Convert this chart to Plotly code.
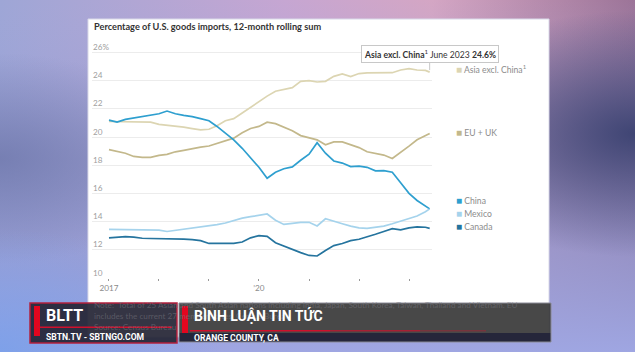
import base64
import plotly.graph_objects as go

# ---------------- data ----------------
dates = ["2017-01-01", "2017-03-01", "2017-05-01", "2017-07-01", "2017-09-01", "2017-11-01",
         "2018-01-01", "2018-03-01", "2018-05-01", "2018-07-01", "2018-09-01", "2018-11-01",
         "2019-01-01", "2019-03-01", "2019-05-01", "2019-07-01", "2019-09-01", "2019-11-01",
         "2020-01-01", "2020-03-01", "2020-05-01", "2020-07-01", "2020-09-01", "2020-11-01",
         "2021-01-01", "2021-03-01", "2021-05-01", "2021-07-01", "2021-09-01", "2021-11-01",
         "2022-01-01", "2022-03-01", "2022-05-01", "2022-07-01", "2022-09-01", "2022-11-01",
         "2023-01-01", "2023-03-01", "2023-05-01", "2023-06-01"]

asia_excl_china = [21.1, 21.08, 21.08, 21.06, 21.06, 21.05, 20.9, 20.85, 20.78, 20.7, 20.6, 20.5,
                   20.55, 20.8, 21.15, 21.3, 21.7, 22.1, 22.55, 22.9, 23.25, 23.4, 23.5, 23.95,
                   24.0, 23.9, 23.95, 24.3, 24.47, 24.28, 24.5, 24.55, 24.56, 24.56, 24.56, 24.75,
                   24.85, 24.75, 24.72, 24.6]
eu_uk = [19.1, 19.0, 18.85, 18.62, 18.56, 18.56, 18.7, 18.77, 18.95, 19.05, 19.18, 19.28,
         19.36, 19.55, 19.73, 19.92, 20.3, 20.6, 20.75, 21.05, 20.95, 20.7, 20.45, 20.1,
         19.95, 19.8, 19.45, 19.65, 19.65, 19.45, 19.25, 18.95, 18.82, 18.72, 18.48, 18.9,
         19.35, 19.8, 20.1, 20.25]
china = [21.2, 21.06, 21.25, 21.35, 21.45, 21.5, 21.65, 21.84, 21.65, 21.53, 21.45, 21.3,
         21.15, 20.75, 20.3, 19.8, 19.2, 18.5, 17.85, 17.07, 17.5, 17.75, 17.88, 18.35,
         18.78, 19.6, 18.85, 18.3, 18.15, 17.9, 17.94, 17.85, 17.6, 17.61, 17.5, 16.75,
         16.0, 15.5, 15.1, 14.9]
mexico = [13.45, 13.45, 13.45, 13.45, 13.45, 13.45, 13.4, 13.3, 13.38, 13.45, 13.5, 13.6,
          13.68, 13.78, 13.9, 14.08, 14.25, 14.35, 14.42, 14.54, 14.1, 13.8, 13.88, 13.95,
          13.95, 13.69, 14.2, 14.05, 13.85, 13.68, 13.55, 13.52, 13.6, 13.68, 13.85, 14.05,
          14.2, 14.4, 14.7, 14.9]
canada = [12.85, 12.88, 12.93, 12.9, 12.82, 12.8, 12.8, 12.78, 12.75, 12.75, 12.72, 12.65,
          12.45, 12.45, 12.45, 12.45, 12.55, 12.85, 13.0, 12.95, 12.5, 12.25, 12.05, 11.8,
          11.6, 11.56, 11.95, 12.3, 12.45, 12.65, 12.75, 12.9, 13.1, 13.3, 13.5, 13.42,
          13.55, 13.62, 13.6, 13.52]

series_names = ["Asia excl. China<sup>1</sup>", "EU + UK", "China", "Mexico", "Canada"]
series_values = [asia_excl_china, eu_uk, china, mexico, canada]
series_colors = ["#dcd5b2", "#c3b88b", "#2e9fcf", "#a5d3ec", "#25749e"]

y_tickvals = [10, 12, 14, 16, 18, 20, 22, 24, 26]
y_ticktext = ["10", "12", "14", "16", "18", "20", "22", "24", "26%"]
x_tickvals = ["2017-01-01", "2018-01-01", "2019-01-01", "2020-01-01", "2021-01-01",
              "2022-01-01", "2023-01-01"]
x_ticktext = ["2017", "", "", "\u201920", "", "", ""]

title_text = "Percentage of U.S. goods imports, 12-month rolling sum"
tooltip_text = "<b>Asia excl. China</b><sup>1</sup> June 2023 <b>24.6%</b>"
note_lines = ["Note:  Total of 25 Asian and South Asian nations including India, Japan, South Korea, Taiwan, Thailand and Vietnam. EU",
              "includes the current 27 member states. Census Bureau",
              "Source: Census Bureau"]

# ---------------- layout geometry ----------------
W, H = 635, 352
L, R, T, B = 92, 203, 40, 74
PW, PH = W - L - R, H - T - B


def px(x):
    return (x - L) / PW


def py(y):
    return (H - B - y) / PH


# ---------------- background gradient (decoration) ----------------
svg = f"""<svg xmlns='http://www.w3.org/2000/svg' width='{W}' height='{H}' viewBox='0 0 {W} {H}' preserveAspectRatio='none'>
<defs>
<linearGradient id='g' x1='0' y1='0' x2='1' y2='0'>
<stop offset='0' stop-color='#9ea6d6'/>
<stop offset='0.45' stop-color='#c6a6d2'/>
<stop offset='0.68' stop-color='#d4a6c4'/>
<stop offset='1' stop-color='#9c7498'/>
</linearGradient>
<linearGradient id='v' x1='0' y1='0' x2='0' y2='1'>
<stop offset='0' stop-color='#a0a8e2' stop-opacity='0'/>
<stop offset='0.45' stop-color='#8c92c8' stop-opacity='0.55'/>
<stop offset='1' stop-color='#9fa6e2' stop-opacity='1'/>
</linearGradient>
<radialGradient id='d' cx='1' cy='0.38' r='0.35'>
<stop offset='0' stop-color='#3f4574' stop-opacity='1'/>
<stop offset='1' stop-color='#3f4574' stop-opacity='0'/>
</radialGradient>
<radialGradient id='lft' cx='0' cy='0.45' r='0.3'>
<stop offset='0' stop-color='#6f78ac' stop-opacity='0.8'/>
<stop offset='1' stop-color='#6f78ac' stop-opacity='0'/>
</radialGradient>
<radialGradient id='bl' cx='0' cy='1' r='0.35'>
<stop offset='0' stop-color='#7aa0ea' stop-opacity='0.9'/>
<stop offset='1' stop-color='#7aa0ea' stop-opacity='0'/>
</radialGradient>
</defs>
<rect width='{W}' height='{H}' fill='url(#g)'/>
<rect width='{W}' height='{H}' fill='url(#v)'/>
<rect width='{W}' height='{H}' fill='url(#d)'/>
<rect width='{W}' height='{H}' fill='url(#lft)'/>
<rect width='{W}' height='{H}' fill='url(#bl)'/>
</svg>"""
bg_uri = "data:image/svg+xml;base64," + base64.b64encode(svg.encode()).decode()

fig = go.Figure()

for name, vals, col in zip(series_names, series_values, series_colors):
    fig.add_trace(go.Scatter(x=dates, y=vals, mode="lines", name=name,
                             line=dict(color=col, width=1.7), showlegend=False,
                             hoverinfo="skip"))

shapes = []
# white card
shapes.append(dict(type="rect", xref="paper", yref="paper", layer="below",
                   x0=px(88), x1=px(549), y0=py(337), y1=py(19),
                   fillcolor="white", line=dict(color="#d8d8e8", width=1)))

# banner - left box
shapes.append(dict(type="rect", xref="paper", yref="paper", layer="above",
                   x0=px(30), x1=px(177), y0=py(343), y1=py(303),
                   fillcolor="rgba(38,38,54,0.93)", line=dict(color="#b3203e", width=1.5)))
shapes.append(dict(type="rect", xref="paper", yref="paper", layer="above",
                   x0=px(34), x1=px(40), y0=py(336), y1=py(306),
                   fillcolor="#e3061f", line=dict(width=0)))
shapes.append(dict(type="rect", xref="paper", yref="paper", layer="above",
                   x0=px(37), x1=px(172), y0=py(328), y1=py(326.5),
                   fillcolor="#d0102c", line=dict(width=0)))
# banner - right box
shapes.append(dict(type="rect", xref="paper", yref="paper", layer="above",
                   x0=px(179), x1=px(551), y0=py(333), y1=py(303),
                   fillcolor="rgba(58,58,58,0.93)", line=dict(width=0)))
shapes.append(dict(type="rect", xref="paper", yref="paper", layer="above",
                   x0=px(179), x1=px(551), y0=py(342), y1=py(333),
                   fillcolor="#25263a", line=dict(width=0)))
shapes.append(dict(type="rect", xref="paper", yref="paper", layer="above",
                   x0=px(179), x1=px(551), y0=py(342), y1=py(303),
                   fillcolor="rgba(0,0,0,0)", line=dict(color="#8a8a96", width=1)))
shapes.append(dict(type="rect", xref="paper", yref="paper", layer="above",
                   x0=px(182), x1=px(188), y0=py(333), y1=py(306),
                   fillcolor="#e3061f", line=dict(width=0)))
for (a, b_, op) in [(190, 330, 1.0), (330, 420, 0.7), (420, 486, 0.35)]:
    shapes.append(dict(type="rect", xref="paper", yref="paper", layer="above",
                       x0=px(a), x1=px(b_), y0=py(331.5), y1=py(330),
                       fillcolor=f"rgba(208,16,44,{op})", line=dict(width=0)))

annotations = []
annotations.append(dict(text=title_text, xref="paper", yref="paper", x=px(92), y=py(27),
                        xanchor="left", yanchor="middle", showarrow=False,
                        font=dict(family="Lato", size=9.2, color="#333333", weight="bold")))

# y tick labels sitting above their gridlines (WSJ style)
for v, t in zip(y_tickvals, y_ticktext):
    annotations.append(dict(text=t, xref="paper", yref="y", x=px(91), y=v, yshift=5.5,
                            xanchor="left", yanchor="middle", showarrow=False,
                            font=dict(family="Lato", size=8.2, color="#a0a0a0")))

# legend labels at right
legend_y = [69, 132, 200, 213, 226]
for name, col, yy in zip(series_names, series_colors, legend_y):
    annotations.append(dict(
        text=f"<span style='color:{col};font-size:10px'>\u25A0</span> {name}",
        xref="paper", yref="paper", x=px(454), y=py(yy), xanchor="left", yanchor="middle",
        showarrow=False, font=dict(family="Lato", size=8.6, color="#8c8c8c")))

# tooltip
annotations.append(dict(text=tooltip_text, x=dates[-1], y=asia_excl_china[-1], xref="x", yref="y",
                        showarrow=True, arrowhead=0, arrowwidth=1, arrowcolor="#c8c8c8",
                        ax=0, ay=-18, standoff=2, bgcolor="white", bordercolor="#c8c8c8",
                        borderwidth=1, borderpad=2,
                        font=dict(family="Lato", size=8.6, color="#333333")))

# note text (behind banner - dimmed)
for i, line in enumerate(note_lines):
    annotations.append(dict(text=line, xref="paper", yref="paper", x=px(92), y=py(305 + 11 * i),
                            xanchor="left", yanchor="middle", showarrow=False,
                            font=dict(family="Lato", size=8.2, color="rgba(120,120,128,0.55)")))

# banner texts
annotations.append(dict(text="<b>BLTT</b>", xref="paper", yref="paper", x=px(44), y=py(316),
                        xanchor="left", yanchor="middle", showarrow=False,
                        font=dict(family="Roboto", size=16, color="white")))
annotations.append(dict(text="<b>SBTN.TV - SBTNGO.COM</b>", xref="paper", yref="paper", x=px(44),
                        y=py(336.5), xanchor="left", yanchor="middle", showarrow=False,
                        font=dict(family="Roboto", size=8.6, color="white")))
annotations.append(dict(text="<b>BÌNH LUẬN TIN TỨC</b>", xref="paper", yref="paper", x=px(192),
                        y=py(316), xanchor="left", yanchor="middle", showarrow=False,
                        font=dict(family="Roboto", size=14, color="white")))
annotations.append(dict(text="<b>ORANGE COUNTY, CA</b>", xref="paper", yref="paper", x=px(192),
                        y=py(337.5), xanchor="left", yanchor="middle", showarrow=False,
                        font=dict(family="Roboto", size=8.6, color="white")))

fig.update_layout(
    width=W, height=H,
    margin=dict(l=L, r=R, t=T, b=B, pad=0),
    paper_bgcolor="#a0a6d8", plot_bgcolor="rgba(0,0,0,0)",
    showlegend=False,
    images=[dict(source=bg_uri, xref="paper", yref="paper", x=px(0), y=py(0),
                 sizex=W / PW, sizey=H / PH, xanchor="left", yanchor="top",
                 sizing="stretch", layer="below")],
    shapes=shapes, annotations=annotations,
    xaxis=dict(type="date", range=["2016-08-30", "2023-06-18"], tickvals=x_tickvals,
               ticktext=x_ticktext, showgrid=False, zeroline=False, showline=False,
               ticks="outside", ticklen=2, tickcolor="#9a9a9a", tickwidth=1,
               tickfont=dict(family="Lato", size=8.2, color="#8a8a8a"), fixedrange=True),
    yaxis=dict(range=[10, 10 + PH / 14.1], tickvals=y_tickvals, showticklabels=False,
               showgrid=True, gridcolor="#ececec", gridwidth=1,
               zeroline=False, showline=False, ticks="", fixedrange=True),
)

fig.write_html("out.html")
